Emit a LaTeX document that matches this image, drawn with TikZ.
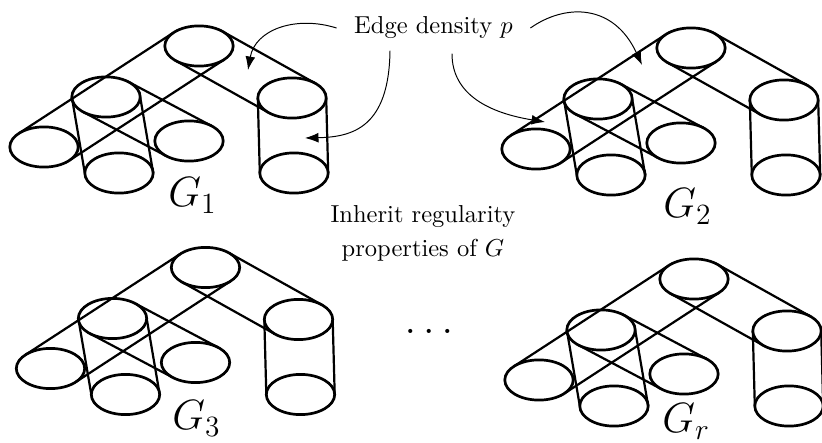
\documentclass[tikz,border=0pt]{standalone}
\usetikzlibrary{arrows.meta, shapes.geometric, positioning, calc}

\tikzset{
    blob/.style={draw, ellipse, line width=1.1pt, minimum width=27.9pt,
                 minimum height=16.4pt, inner sep=0pt, outer sep=0pt},
    band/.style={line width=0.9pt},
    densarrow/.style={-{Latex[length=5.5pt, width=4pt]}, thin},
    glabel/.style={font=\LARGE, anchor=base west, inner sep=0pt},
    pics/clustergraph/.style={code={
        % single clusters
        \node[blob] (T) at (0,0) {};
        \node[blob] (A) at (-155,101) {};
        \node[blob] (B) at (-10,95) {};
        % two cylinders
        \node[blob] (Lt) at (-93,51) {};
        \node[blob] (Lb) at (-80,127) {};
        \node[blob] (Rt) at (93,52) {};
        \node[blob] (Rb) at (95,127) {};
        \draw[band] (Lt.west) -- (Lb.west) (Lt.east) -- (Lb.east);
        \draw[band] (Rt.west) -- (Rb.west) (Rt.east) -- (Rb.east);
        % bands between clusters
        \draw[band] (T.152) -- (A.152) (T.-28) -- (A.-28);
        \draw[band] (T.31.8) -- (Rt.31.8) (T.211.8) -- (Rt.211.8);
        \draw[band] (Lt.33.2) -- (B.33.2) (Lt.213.2) -- (B.213.2);
    }},
}

\begin{document}
\begin{tikzpicture}[x=0.408pt, y=-0.408pt]
\useasboundingbox (0,0) rectangle (822,443);

% ===================== GRAPHS =====================
\pic (g1) at (199,46) {clustergraph};
\pic (g2) at (691,48) {clustergraph};
\pic (g3) at (205.5,267.5) {clustergraph};
\pic (gr) at (694,279) {clustergraph};

\node[glabel] (lab1) at (168,207) {$G_1$};
\node[glabel] (lab2) at (663,218) {$G_2$};
\node[glabel] (lab3) at (172,430) {$G_3$};
\node[glabel] (labr) at (662,433) {$G_r$};

\node[font=\LARGE, anchor=base] (dots) at (429,333.5) {$\dots$};

% ===================== ANNOTATIONS =====================
\node[anchor=base, inner xsep=7pt] (edge) at (433.5,34) {Edge density $p$};
\node[align=center] (inherit) at (423,233.6)
    {Inherit regularity\\[1.7pt] properties of $G$};

% arrow targets
\coordinate (pTR) at (248,70);
\coordinate (pcyl) at (305,138);
\coordinate (pTAlow) at (545,122);
\coordinate (pTAup) at (642,65);

\draw[densarrow] (edge.west) .. controls (295,15) and (255,30) .. (pTR);
\draw[densarrow] ($(edge.south)+(-43.5,3)$) .. controls (389,128) and (352,137) .. (pcyl);
\draw[densarrow] ($(edge.south)+(18.5,6)$) .. controls (452,95) and (490,113) .. (pTAlow);
\draw[densarrow] (edge.east) .. controls (566,3) and (614,4) .. (pTAup);

\end{tikzpicture}
\end{document}
